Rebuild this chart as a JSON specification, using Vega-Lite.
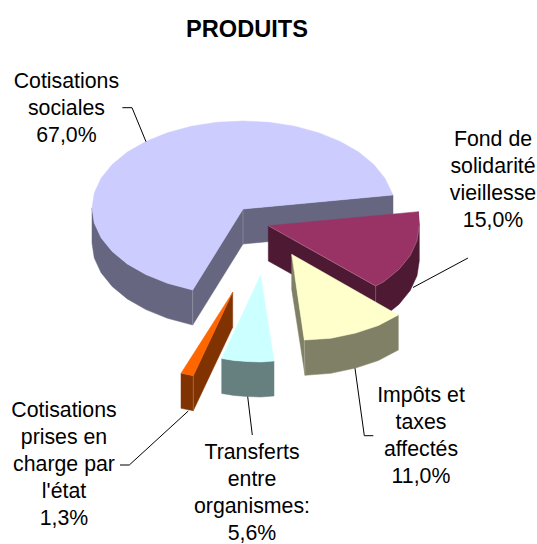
{"$schema":"https://vega.github.io/schema/vega-lite/v6.json","width":537,"height":544,"padding":0,"autosize":"none","background":"white","config":{"view":{"stroke":null},"font":"Liberation Sans"},
"title":{"text":"PRODUITS","font":"Liberation Sans","fontSize":23.6,"fontWeight":"bold","color":"#000000","anchor":"middle","frame":"group","offset":-61,"baseline":"alphabetic","dx":-21.5},
"datasets":{"faces":[
{"part":"sociales flanc","i":1,"x":92,"y":208},{"part":"sociales flanc","i":2,"x":94.3,"y":223.1},{"part":"sociales flanc","i":3,"x":101.1,"y":237.8},{"part":"sociales flanc","i":4,"x":112.2,"y":251.5},{"part":"sociales flanc","i":5,"x":127.3,"y":263.9},{"part":"sociales flanc","i":6,"x":145.9,"y":274.6},{"part":"sociales flanc","i":7,"x":167.5,"y":283.3},{"part":"sociales flanc","i":8,"x":192.7,"y":290},{"part":"sociales flanc","i":9,"x":192.7,"y":325},{"part":"sociales flanc","i":10,"x":167.5,"y":318.3},{"part":"sociales flanc","i":11,"x":145.9,"y":309.6},{"part":"sociales flanc","i":12,"x":127.3,"y":298.9},{"part":"sociales flanc","i":13,"x":112.2,"y":286.5},{"part":"sociales flanc","i":14,"x":101.1,"y":272.8},{"part":"sociales flanc","i":15,"x":94.3,"y":258.1},{"part":"sociales flanc","i":16,"x":92,"y":243},
{"part":"sociales coupe a","i":1,"x":192.7,"y":290},{"part":"sociales coupe a","i":2,"x":243,"y":209},{"part":"sociales coupe a","i":3,"x":243,"y":244},{"part":"sociales coupe a","i":4,"x":192.7,"y":325},
{"part":"sociales coupe b","i":1,"x":243,"y":209},{"part":"sociales coupe b","i":2,"x":393,"y":195},{"part":"sociales coupe b","i":3,"x":393,"y":230},{"part":"sociales coupe b","i":4,"x":243,"y":244},
{"part":"sociales dessus","i":1,"x":243,"y":209},{"part":"sociales dessus","i":2,"x":393,"y":195},{"part":"sociales dessus","i":3,"x":384.9,"y":178.2},{"part":"sociales dessus","i":4,"x":373.8,"y":164.5},{"part":"sociales dessus","i":5,"x":358.7,"y":152.1},{"part":"sociales dessus","i":6,"x":340.1,"y":141.4},{"part":"sociales dessus","i":7,"x":318.5,"y":132.7},{"part":"sociales dessus","i":8,"x":294.6,"y":126.2},{"part":"sociales dessus","i":9,"x":269.2,"y":122.3},{"part":"sociales dessus","i":10,"x":243,"y":121},{"part":"sociales dessus","i":11,"x":216.8,"y":122.3},{"part":"sociales dessus","i":12,"x":191.4,"y":126.2},{"part":"sociales dessus","i":13,"x":167.5,"y":132.7},{"part":"sociales dessus","i":14,"x":145.9,"y":141.4},{"part":"sociales dessus","i":15,"x":127.3,"y":152.1},{"part":"sociales dessus","i":16,"x":112.2,"y":164.5},{"part":"sociales dessus","i":17,"x":101.1,"y":178.2},{"part":"sociales dessus","i":18,"x":94.3,"y":192.9},{"part":"sociales dessus","i":19,"x":92,"y":208},{"part":"sociales dessus","i":20,"x":94.3,"y":223.1},{"part":"sociales dessus","i":21,"x":101.1,"y":237.8},{"part":"sociales dessus","i":22,"x":112.2,"y":251.5},{"part":"sociales dessus","i":23,"x":127.3,"y":263.9},{"part":"sociales dessus","i":24,"x":145.9,"y":274.6},{"part":"sociales dessus","i":25,"x":167.5,"y":283.3},{"part":"sociales dessus","i":26,"x":192.7,"y":290},
{"part":"solidarite flanc","i":1,"x":418.3,"y":211.7},{"part":"solidarite flanc","i":2,"x":419.3,"y":225.7},{"part":"solidarite flanc","i":3,"x":419.3,"y":260.7},{"part":"solidarite flanc","i":4,"x":417,"y":275.8},{"part":"solidarite flanc","i":5,"x":410.2,"y":290.5},{"part":"solidarite flanc","i":6,"x":399.1,"y":304.2},{"part":"solidarite flanc","i":7,"x":384,"y":316.6},{"part":"solidarite flanc","i":8,"x":375.7,"y":321},{"part":"solidarite flanc","i":9,"x":375.7,"y":286},
{"part":"solidarite coupe","i":1,"x":268.3,"y":225.7},{"part":"solidarite coupe","i":2,"x":375.7,"y":286},{"part":"solidarite coupe","i":3,"x":375.7,"y":321},{"part":"solidarite coupe","i":4,"x":268.3,"y":261},
{"part":"solidarite dessus","i":1,"x":268.3,"y":225.7},{"part":"solidarite dessus","i":2,"x":418.3,"y":211.7},{"part":"solidarite dessus","i":3,"x":419.3,"y":225.7},{"part":"solidarite dessus","i":4,"x":417,"y":240.8},{"part":"solidarite dessus","i":5,"x":410.2,"y":255.5},{"part":"solidarite dessus","i":6,"x":399.1,"y":269.2},{"part":"solidarite dessus","i":7,"x":384,"y":281.6},{"part":"solidarite dessus","i":8,"x":375.7,"y":286},
{"part":"impots coupe","i":1,"x":291.7,"y":254.3},{"part":"impots coupe","i":2,"x":291.7,"y":289.3},{"part":"impots coupe","i":3,"x":305,"y":375.3},{"part":"impots coupe","i":4,"x":304.3,"y":340},
{"part":"impots flanc","i":1,"x":304.3,"y":340},{"part":"impots flanc","i":2,"x":330.8,"y":338.3},{"part":"impots flanc","i":3,"x":355.5,"y":333.1},{"part":"impots flanc","i":4,"x":378.3,"y":325.6},{"part":"impots flanc","i":5,"x":398.3,"y":315},{"part":"impots flanc","i":6,"x":398.3,"y":350},{"part":"impots flanc","i":7,"x":378.3,"y":360.6},{"part":"impots flanc","i":8,"x":355.5,"y":368.1},{"part":"impots flanc","i":9,"x":330.8,"y":373.3},{"part":"impots flanc","i":10,"x":305,"y":375.3},
{"part":"impots dessus","i":1,"x":291.7,"y":254.3},{"part":"impots dessus","i":2,"x":398.3,"y":315},{"part":"impots dessus","i":3,"x":378.3,"y":325.6},{"part":"impots dessus","i":4,"x":355.5,"y":333.1},{"part":"impots dessus","i":5,"x":330.8,"y":338.3},{"part":"impots dessus","i":6,"x":304.3,"y":340},
{"part":"transferts flanc","i":1,"x":221.7,"y":358.5},{"part":"transferts flanc","i":2,"x":234,"y":360.5},{"part":"transferts flanc","i":3,"x":247,"y":361.5},{"part":"transferts flanc","i":4,"x":260.7,"y":362},{"part":"transferts flanc","i":5,"x":274,"y":361},{"part":"transferts flanc","i":6,"x":274,"y":396},{"part":"transferts flanc","i":7,"x":260.7,"y":397},{"part":"transferts flanc","i":8,"x":247,"y":396.5},{"part":"transferts flanc","i":9,"x":234,"y":395.5},{"part":"transferts flanc","i":10,"x":221.7,"y":393.5},
{"part":"transferts dessus","i":1,"x":260.7,"y":275},{"part":"transferts dessus","i":2,"x":274,"y":361},{"part":"transferts dessus","i":3,"x":260.7,"y":362},{"part":"transferts dessus","i":4,"x":247,"y":361.5},{"part":"transferts dessus","i":5,"x":234,"y":360.5},{"part":"transferts dessus","i":6,"x":221.7,"y":358.5},
{"part":"etat coupe","i":1,"x":193.3,"y":375.7},{"part":"etat coupe","i":2,"x":232.7,"y":292.3},{"part":"etat coupe","i":3,"x":232.7,"y":327.3},{"part":"etat coupe","i":4,"x":193.3,"y":410.7},
{"part":"etat flanc","i":1,"x":181,"y":373.3},{"part":"etat flanc","i":2,"x":193.3,"y":375.7},{"part":"etat flanc","i":3,"x":193.3,"y":410.7},{"part":"etat flanc","i":4,"x":181,"y":408.3},
{"part":"etat dessus","i":1,"x":232.7,"y":292.3},{"part":"etat dessus","i":2,"x":193.3,"y":375.7},{"part":"etat dessus","i":3,"x":181,"y":373.3}
],
"edges":[
{"edge":"e1","i":1,"x":243,"y":209},{"edge":"e1","i":2,"x":243,"y":244},
{"edge":"e2","i":1,"x":192.7,"y":290},{"edge":"e2","i":2,"x":192.7,"y":325},
{"edge":"e3","i":1,"x":375.7,"y":286},{"edge":"e3","i":2,"x":375.7,"y":321},
{"edge":"e4","i":1,"x":304.3,"y":340},{"edge":"e4","i":2,"x":305,"y":375.3},
{"edge":"e5","i":1,"x":193.3,"y":375.7},{"edge":"e5","i":2,"x":193.3,"y":410.7},
{"edge":"e6","i":1,"x":268.3,"y":225.7},{"edge":"e6","i":2,"x":375.7,"y":286},
{"edge":"e7","i":1,"x":375.7,"y":286},{"edge":"e7","i":2,"x":384,"y":281.6},{"edge":"e7","i":3,"x":399.1,"y":269.2},{"edge":"e7","i":4,"x":410.2,"y":255.5},{"edge":"e7","i":5,"x":417,"y":240.8},{"edge":"e7","i":6,"x":419.3,"y":225.7}
],
"leaders":[
{"label":"sociales","i":1,"x":122.4,"y":107.7},{"label":"sociales","i":2,"x":132,"y":107.7},{"label":"sociales","i":3,"x":146,"y":141.7},
{"label":"solidarite","i":1,"x":413,"y":287.5},{"label":"solidarite","i":2,"x":468,"y":258},
{"label":"impots","i":1,"x":355,"y":368.3},{"label":"impots","i":2,"x":364.3,"y":435.7},{"label":"impots","i":3,"x":373.3,"y":435.7},
{"label":"transferts","i":1,"x":247.7,"y":396.7},{"label":"transferts","i":2,"x":252.3,"y":435},
{"label":"etat","i":1,"x":120,"y":465},{"label":"etat","i":2,"x":129.3,"y":465},{"label":"etat","i":3,"x":188.3,"y":411}
],
"labels":[
{"text":"Cotisations\nsociales\n67,0%","x":66.4,"y":87.7},
{"text":"Fond de\nsolidarité\nvieillesse\n15,0%","x":493,"y":145.5},
{"text":"Impôts et\ntaxes\naffectés\n11,0%","x":421,"y":402},
{"text":"Transferts\nentre\norganismes:\n5,6%","x":252,"y":458.5},
{"text":"Cotisations\nprises en\ncharge par\nl'état\n1,3%","x":64,"y":417}
]},
"layer":[
{"data":{"name":"faces"},"mark":{"type":"line","strokeWidth":0.5,"interpolate":"linear-closed"},
"encoding":{"x":{"field":"x","type":"quantitative","scale":{"domain":[0,537],"nice":false,"zero":false},"axis":null},"y":{"field":"y","type":"quantitative","scale":{"domain":[544,0],"nice":false,"zero":false},"axis":null},"order":{"field":"i","type":"quantitative"},
"fill":{"field":"part","type":"nominal","legend":null,"scale":{"domain":["sociales flanc","sociales coupe a","sociales coupe b","sociales dessus","solidarite flanc","solidarite coupe","solidarite dessus","impots coupe","impots flanc","impots dessus","transferts flanc","transferts dessus","etat coupe","etat flanc","etat dessus"],"range":["#666680","#666680","#666680","#ccccff","#4d1933","#4d1933","#993366","#808066","#808066","#ffffcc","#668080","#ccffff","#803300","#803300","#ff6600"]}},
"stroke":{"field":"part","type":"nominal","legend":null,"scale":{"domain":["sociales flanc","sociales coupe a","sociales coupe b","sociales dessus","solidarite flanc","solidarite coupe","solidarite dessus","impots coupe","impots flanc","impots dessus","transferts flanc","transferts dessus","etat coupe","etat flanc","etat dessus"],"range":["#666680","#666680","#666680","#ccccff","#4d1933","#4d1933","#993366","#808066","#808066","#ffffcc","#668080","#ccffff","#803300","#803300","#ff6600"]}}}},
{"data":{"name":"edges"},"mark":{"type":"line","strokeWidth":0.7,"stroke":"#ffffff","opacity":0.3},
"encoding":{"x":{"field":"x","type":"quantitative"},"y":{"field":"y","type":"quantitative"},"detail":{"field":"edge"},"order":{"field":"i","type":"quantitative"}}},
{"data":{"name":"leaders"},"mark":{"type":"line","strokeWidth":1,"stroke":"#000000"},
"encoding":{"x":{"field":"x","type":"quantitative"},"y":{"field":"y","type":"quantitative"},"detail":{"field":"label"},"order":{"field":"i","type":"quantitative"}}},
{"data":{"name":"labels"},"mark":{"type":"text","font":"Liberation Sans","fontSize":21.3,"lineBreak":"\n","lineHeight":27.1,"align":"center","baseline":"alphabetic","color":"#000000"},
"encoding":{"x":{"field":"x","type":"quantitative"},"y":{"field":"y","type":"quantitative"},"text":{"field":"text"}}}
]}
